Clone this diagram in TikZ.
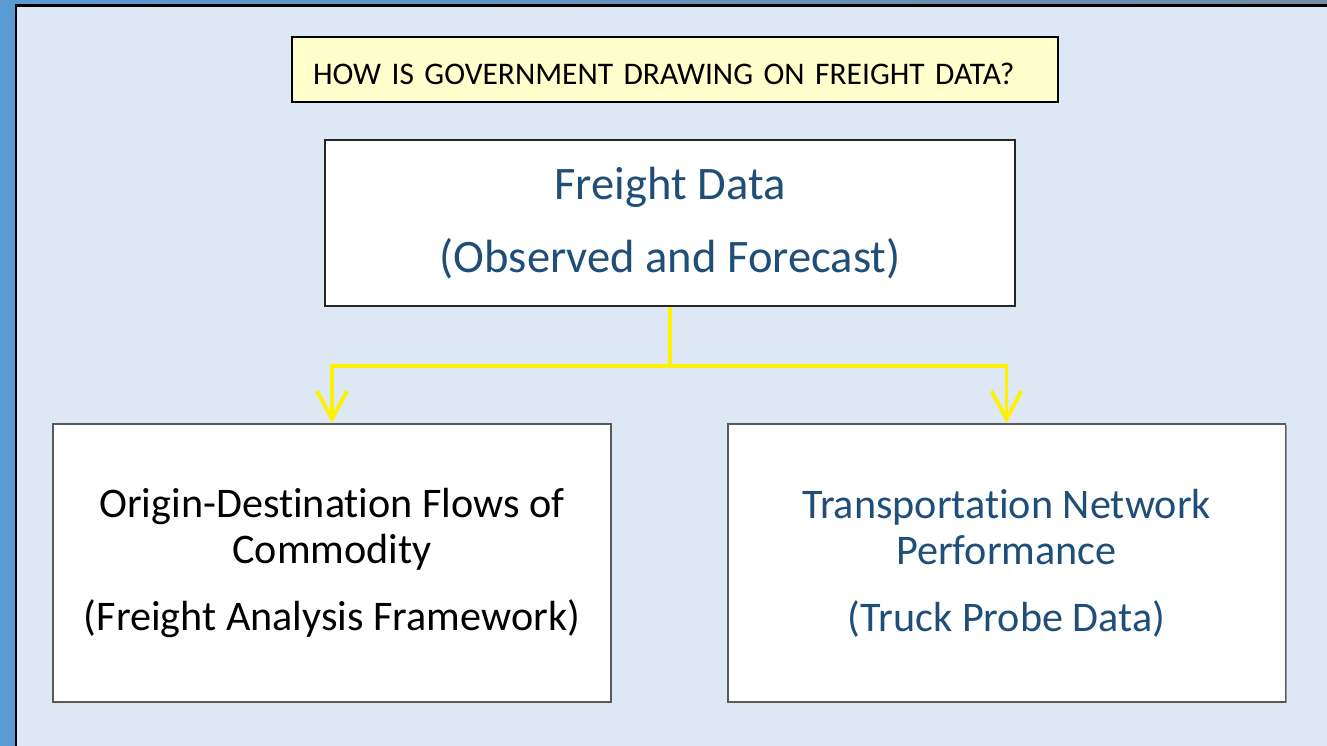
\documentclass[tikz,border=0pt]{standalone}
\usepackage{fontspec}
\setmainfont{Carlito}[Ligatures={NoCommon}]
\newfontfamily\notefont{Carlito}[WordSpace=0.8]
\usetikzlibrary{arrows.meta,shadows}
\definecolor{panelbg}{HTML}{DDE8F4}
\definecolor{stripblue}{HTML}{5B9BD5}
\definecolor{notecolor}{HTML}{FFFFCC}
\definecolor{textblue}{HTML}{1F4E79}
\tikzset{
  notebox/.style={draw=black, line width=1.1pt, fill=notecolor, font=\notefont\fontsize{17.9}{21}\selectfont,
    text width=14.48cm, align=left, inner xsep=0.42cm, inner ysep=0pt, minimum height=1.3cm,
    text height=0.7cm, text depth=0.08cm},
  databox/.style={draw=black!65, line width=1.1pt, fill=white, align=center, inner sep=0pt,
    drop shadow={shadow xshift=0.7pt, shadow yshift=-0.7pt, opacity=0.35, fill=black}},
  lowbox/.style={databox, minimum width=11.16cm, minimum height=5.56cm,
    font=\fontsize{24}{26.1}\selectfont},
  flowline/.style={draw=yellow, line width=2.2pt},
  flow/.style={flowline, -{Straight Barb[length=0.56cm,width=0.6cm]}}
}
\begin{document}
\begin{tikzpicture}[x=0.02cm,y=-0.02cm]
  \useasboundingbox (0,0) rectangle (1327,746);
  \fill[stripblue] (0,0) rectangle (1327,746);
  \shade[left color=stripblue, right color=gray!60!stripblue] (0,0) rectangle (1327,5);
  \fill[panelbg] (16,5.5) rectangle (1327,746);
  \draw[black, line width=1.2pt] (16,746) -- (16,5.5) -- (1327,5.5);

  \node[notebox] (question) at (675,69.5) {HOW IS GOVERNMENT DRAWING ON FREIGHT DATA?};
  \node[databox, draw=black!85, minimum width=13.8cm, minimum height=3.32cm,
    font=\fontsize{26.5}{41.5}\selectfont, text=textblue] (fd) at (670,223)
    {Freight Data\\(Observed and Forecast)};
  \node[lowbox] (od) at (332,563)
    {Origin-Destination Flows of\\Commodity\\[11.9pt](Freight Analysis Framework)};
  \node[lowbox, text=textblue] (tp) at (1006.5,563)
    {Transportation Network\\Performance\\[11.9pt](Truck Probe Data)};

  \path (fd.south) ++(0,59) coordinate (split);
  \draw[flowline] (fd.south) -- (split);
  \draw[flow] (split) -| (od.north);
  \draw[flow] (split) -| (tp.north);
\end{tikzpicture}
\end{document}
